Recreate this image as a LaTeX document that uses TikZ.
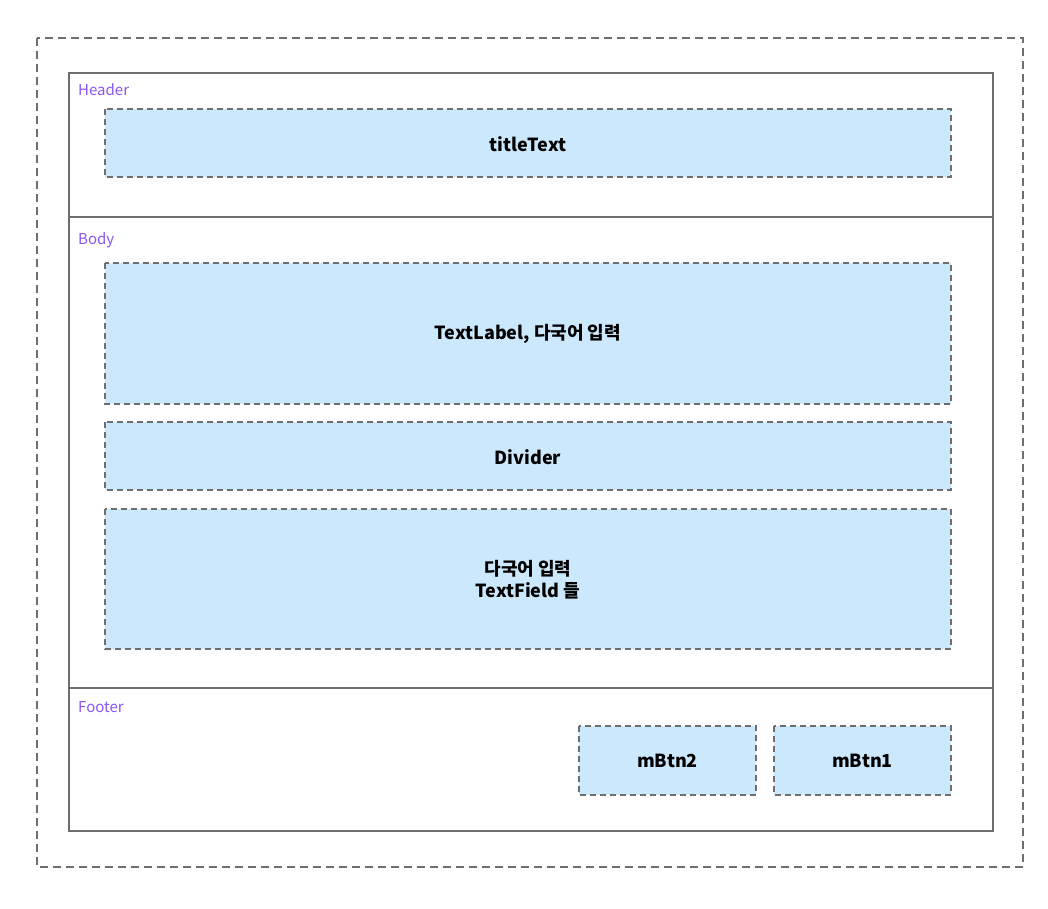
\documentclass[tikz,border=0pt]{standalone}
\usepackage{fontspec}
\setmainfont{Noto Sans CJK KR}
\begin{document}
\begin{tikzpicture}[x=1pt,y=-1pt]
\definecolor{bx}{HTML}{CCE8FC}
\definecolor{ln}{HTML}{6E6E6E}
\definecolor{pu}{HTML}{8A55F5}
\tikzset{
 comp/.style={fill=bx,draw=ln,dash pattern=on 6pt off 4pt,line width=2pt},
 ctext/.style={font=\fontsize{18}{22}\selectfont\bfseries,align=center,text=black},
 sec/.style={font=\fontsize{15}{18}\selectfont,text=pu,anchor=west,inner sep=0pt},
 frame/.style={draw=ln,line width=2pt}
}
\useasboundingbox (0,0) rectangle (1048,908);
\draw[draw=ln,dash pattern=on 8pt off 5pt,line width=2pt] (37,38) rectangle (1023,867);
\draw[frame] (69,73) rectangle (993,831);
\draw[frame] (69,217) -- (993,217);
\draw[frame] (69,688) -- (993,688);
\node[sec] (h) at (78,90) {Header};
\node[sec] (b) at (78,240) {Body};
\node[sec] (f) at (78,707) {Footer};
\draw[comp] (105,109) rectangle (951,177);
\node[ctext] (t1) at (528,144) {titleText};
\draw[comp] (105,263) rectangle (951,404);
\node[ctext] (t2) at (528,334) {TextLabel, 다국어 입력};
\draw[comp] (105,422) rectangle (951,490);
\node[ctext] (t3) at (528,457) {Divider};
\draw[comp] (105,509) rectangle (951,649);
\node[ctext] (t4) at (528,580) {다국어 입력\\TextField 들};
\draw[comp] (579,726) rectangle (756,795);
\node[ctext] (t5) at (667.5,761) {mBtn2};
\draw[comp] (774,726) rectangle (951,795);
\node[ctext] (t6) at (862.5,761) {mBtn1};
\end{tikzpicture}
\end{document}
